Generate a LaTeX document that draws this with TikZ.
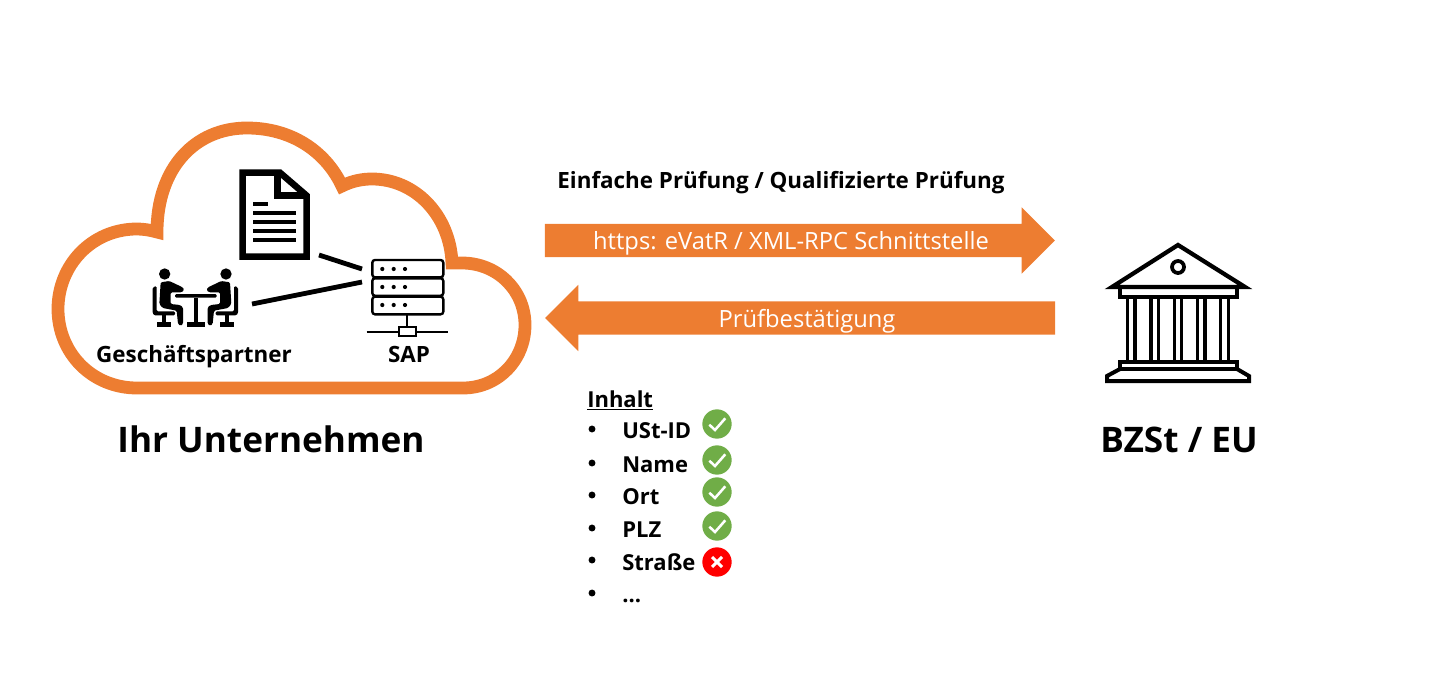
\documentclass[tikz,border=0pt]{standalone}
\usepackage{fontspec}
\setmainfont{Open Sans}
\usepackage{tikz}
\usetikzlibrary{shapes.arrows}

\definecolor{cloudorange}{HTML}{ED7D31}
\definecolor{okgreen}{HTML}{70AD47}
\definecolor{badred}{HTML}{FF0000}

\tikzset{
  flowarrow/.style={single arrow, fill=cloudorange, inner sep=0pt, text width=0pt, text height=24.4pt, text depth=0pt, minimum height=382.5pt, single arrow head extend=12.4pt, single arrow tip angle=90},
  flowtext/.style={anchor=base, text=white, font=\fontsize{17.8}{20}\selectfont},
  boldtext/.style={anchor=base, font=\fontsize{16.8}{20}\selectfont\bfseries},
  titletext/.style={anchor=base, font=\fontsize{26.4}{32}\selectfont\bfseries},
  itemtext/.style={anchor=base west, inner sep=0pt, font=\fontsize{16.5}{20}\selectfont\bfseries},
  itemdot/.style={circle, fill=black, inner sep=0pt, minimum size=5.2pt},
  okdot/.style={circle, fill=okgreen, inner sep=0pt, minimum size=22pt, path picture={
    \draw[white, line width=1.9pt] ([shift={(-7.7,0.7)}]path picture bounding box.center) -- ([shift={(-2,6)}]path picture bounding box.center) -- ([shift={(8.3,-5.7)}]path picture bounding box.center);}},
  baddot/.style={circle, fill=badred, inner sep=0pt, minimum size=22pt, path picture={
    \draw[white, line width=2.2pt] ([shift={(-5,-5)}]path picture bounding box.center) -- ([shift={(5,5)}]path picture bounding box.center);
    \draw[white, line width=2.2pt] ([shift={(-5,5)}]path picture bounding box.center) -- ([shift={(5,-5)}]path picture bounding box.center);}},
  link/.style={line width=3.6pt},
  sitter/.pic={
    \fill (104,372) circle (17);
    \fill[rounded corners=1pt] (92,397) -- (118,393) -- (158,412) -- (163,420) -- (155,427) -- (122,427) -- (122,462) -- (150,465) -- (159,472) -- (159,522) -- (152,528) -- (144,522) -- (140,482) -- (98,474) -- (88,462) -- cycle;
    \fill[rounded corners=1pt] (68,412) -- (80,408) -- (80,484) -- (135,484) -- (135,496) -- (72,496) -- (68,490) -- cycle;
    \fill (96,496) rectangle (108,518);
    \fill (80,517) rectangle (122,530);
  }
}

\begin{document}
\begin{tikzpicture}[x=0.75pt, y=-0.75pt]
\useasboundingbox (0,0) rectangle (1434,688);

% cloud
\draw[cloudorange, line width=9.6pt, line join=miter] (137,388) -- (463,388)
  .. controls (498,388) and (525,360) .. (525,325)
  .. controls (525,290) and (497,263) .. (462,263) -- (452,263)
  .. controls (450,215) and (415,179) .. (372,179)
  .. controls (362,179) and (352,181) .. (342,186)
  .. controls (325,150) and (290,128) .. (247,128)
  .. controls (195,128) and (157,168) .. (157,232)
  .. controls (150,230) and (143,229) .. (137,229)
  .. controls (92,229) and (58,265) .. (58,309)
  .. controls (58,353) and (92,388) .. (137,388) -- cycle;

% document
\draw[line width=4.9pt, line join=miter] (242.7,172.7) -- (280,172.7) -- (306.7,195.7) -- (306.7,256.7) -- (242.7,256.7) -- cycle;
\draw[line width=4.9pt, line join=miter] (277.7,172.7) -- (277.7,195.7) -- (306.7,195.7);
\draw[line width=3pt] (253,204) -- (267.7,204);
\draw[line width=3pt] (253,213.3) -- (296,213.3);
\draw[line width=3pt] (253,222.3) -- (296,222.3);
\draw[line width=3pt] (253,231.3) -- (296,231.3);
\draw[line width=3pt] (253,240.3) -- (296,240.3);

% people at the table
\begin{scope}[shift={(130,150)}, x=0.25pt, y=-0.25pt]
\pic {sitter};
\fill[rounded corners=1pt] (135,432) rectangle (260,443);
\fill (191,443) rectangle (203,518);
\fill (170,517) rectangle (225,530);
\end{scope}
\begin{scope}[shift={(260.67,150)}, x=-0.25pt, y=-0.25pt]
\pic {sitter};
\end{scope}

% server
\draw[line width=1.8pt, rounded corners=2pt] (372.3,260) rectangle (443.3,277.3);
\draw[line width=1.8pt, rounded corners=2pt] (372.3,278.3) rectangle (443.3,295.7);
\draw[line width=1.8pt, rounded corners=2pt] (372.3,296.7) rectangle (443.3,314.3);
\fill (382.3,269) circle (2.1) (393.7,269) circle (2.1) (405,269) circle (2.1);
\fill (382.3,287) circle (2.1) (393.7,287) circle (2.1) (405,287) circle (2.1);
\fill (382.3,305) circle (2.1) (393.7,305) circle (2.1) (405,305) circle (2.1);
\draw[line width=1.5pt] (407.3,314.3) -- (407.3,326.7);
\draw[line width=1.5pt] (366.7,331.7) -- (399.3,331.7);
\draw[line width=1.5pt] (416,331.7) -- (448.3,331.7);
\draw[line width=1.5pt] (399.3,326.7) rectangle (416,336);

% links to server
\coordinate (docEnd) at (319,255);
\coordinate (serverTop) at (362,269);
\coordinate (peopleEnd) at (252,304);
\coordinate (serverMid) at (362,282);
\draw[link] (docEnd) -- (serverTop);
\draw[link] (peopleEnd) -- (serverMid);

\node (partnerLabel) at (194,362) [boldtext] {Geschäftspartner};
\node (sapLabel) at (409,362) [boldtext] {SAP};
\node (companyLabel) at (271,452) [titletext] {Ihr Unternehmen};

% arrows
\node (requestArrow) at (791.5,240.5) [flowarrow] {};
\node (replyArrow) at (808.5,318) [flowarrow, shape border rotate=180] {};
\node (checkLabel) at (781,188) [boldtext] {Einfache Prüfung / Qualifizierte Prüfung};
\node (requestLabel) at (791,249) [flowtext] {https: eVatR / XML-RPC Schnittstelle};
\node (replyLabel) at (807,327) [flowtext] {Prüfbestätigung};

% authority
\draw[line width=3.2pt, line join=miter] (1178,245) -- (1245,287) -- (1112,287) -- cycle;
\draw[line width=2.8pt] (1178,267) circle (6);
\draw[line width=3pt] (1120,287) rectangle (1237,297);
\draw[line width=2.4pt] (1127.3,297) -- (1127.3,362);
\draw[line width=2.4pt] (1135,297) -- (1135,362);
\draw[line width=2.4pt] (1151,297) -- (1151,362);
\draw[line width=2.4pt] (1158.3,297) -- (1158.3,362);
\draw[line width=2.4pt] (1174.3,297) -- (1174.3,362);
\draw[line width=2.4pt] (1181.7,297) -- (1181.7,362);
\draw[line width=2.4pt] (1197.7,297) -- (1197.7,362);
\draw[line width=2.4pt] (1205,297) -- (1205,362);
\draw[line width=2.4pt] (1220.7,297) -- (1220.7,362);
\draw[line width=2.4pt] (1228.3,297) -- (1228.3,362);
\draw[line width=3pt] (1120,362) rectangle (1237,369);
\draw[line width=3pt, line join=miter] (1120,369) -- (1107,376) -- (1107,381) -- (1249,381) -- (1249,376) -- (1237,369);
\node (authorityLabel) at (1179,452) [titletext] {BZSt / EU};

% content list
\node (contentHead) at (587,407) [itemtext] {\underline{Inhalt}};
\node (dotA) at (592,429) [itemdot] {};
\node (dotB) at (592,463) [itemdot] {};
\node (dotC) at (592,495) [itemdot] {};
\node (dotD) at (592,528) [itemdot] {};
\node (dotE) at (592,560) [itemdot] {};
\node (dotF) at (592,593) [itemdot] {};
\node (itemA) at (622,438) [itemtext] {USt-ID};
\node (itemB) at (622,472) [itemtext] {Name};
\node (itemC) at (622,504) [itemtext] {Ort};
\node (itemD) at (622,537) [itemtext] {PLZ};
\node (itemE) at (622,570) [itemtext] {Straße};
\node (itemF) at (622,602) [itemtext] {...};
\node (okA) at (717,424) [okdot] {};
\node (okB) at (717,460) [okdot] {};
\node (okC) at (717,492) [okdot] {};
\node (okD) at (717,526) [okdot] {};
\node (badE) at (717,562) [baddot] {};

\end{tikzpicture}
\end{document}
